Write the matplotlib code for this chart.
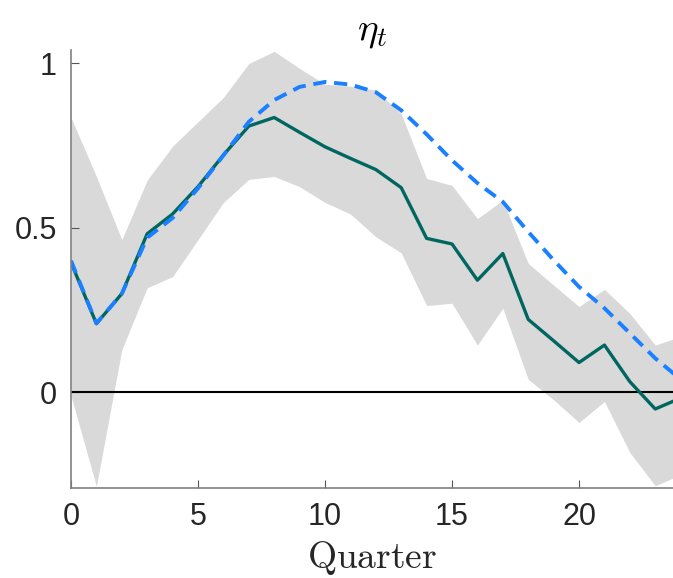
import numpy as np
import matplotlib
matplotlib.use("Agg")
import matplotlib.pyplot as plt

# --- DATA ---
quarters = np.arange(0, 25)
median = [0.395, 0.209, 0.300, 0.482, 0.542, 0.625, 0.721, 0.809, 0.835, 0.790,
          0.746, 0.711, 0.677, 0.622, 0.468, 0.451, 0.341, 0.422, 0.222, 0.157,
          0.091, 0.144, 0.033, -0.050, -0.017]
model = [0.400, 0.210, 0.300, 0.470, 0.530, 0.620, 0.720, 0.822, 0.888, 0.928,
         0.943, 0.935, 0.912, 0.857, 0.784, 0.705, 0.636, 0.579, 0.488, 0.402,
         0.321, 0.256, 0.180, 0.104, 0.040]
band_hi = [0.835, 0.656, 0.464, 0.645, 0.748, 0.822, 0.896, 0.999, 1.036, 0.984,
           0.936, 0.930, 0.918, 0.846, 0.650, 0.629, 0.528, 0.584, 0.392, 0.326,
           0.261, 0.313, 0.240, 0.144, 0.170]
band_lo = [-0.010, -0.285, 0.130, 0.318, 0.352, 0.464, 0.577, 0.647, 0.656, 0.625,
           0.577, 0.542, 0.473, 0.424, 0.264, 0.271, 0.144, 0.256, 0.040, -0.022,
           -0.091, -0.027, -0.182, -0.283, -0.250]

plt.rcParams['font.family'] = ['Liberation Sans', 'DejaVu Sans']
plt.rcParams['mathtext.fontset'] = 'cm'

fig = plt.figure(figsize=(6.73, 5.78), dpi=100)
ax = fig.add_axes([0.1055, 0.1557, 0.8945, 0.7578])

ax.fill_between(quarters, band_lo, band_hi, color='#d9d9d9', linewidth=0)
ax.axhline(0, color='black', lw=1.5)
ax.plot(quarters, median, color='#006660', lw=2.4)
ax.plot(quarters, model, color='#1a80ff', lw=2.8, linestyle=(0, (3.4, 2)))

ax.set_xlim(0, 23.7)
ax.set_ylim(-0.29, 1.04)
ax.set_xticks([0, 5, 10, 15, 20])
ax.set_yticks([0, 0.5, 1])
ax.set_yticklabels(['0', '0.5', '1'])
ax.tick_params(direction='in', length=6, labelsize=22, color='#555555',
               labelcolor='#262626', pad=10)

for s in ['top', 'right']:
    ax.spines[s].set_visible(False)
for s in ['left', 'bottom']:
    ax.spines[s].set_color('#808080')
    ax.spines[s].set_linewidth(1.2)

ax.set_title(r'$\eta_t$', fontsize=28, pad=4)
ax.set_xlabel(r'$\mathrm{Quarter}$', fontsize=27, labelpad=5, color='#262626')

fig.savefig('out.png', dpi=100)
